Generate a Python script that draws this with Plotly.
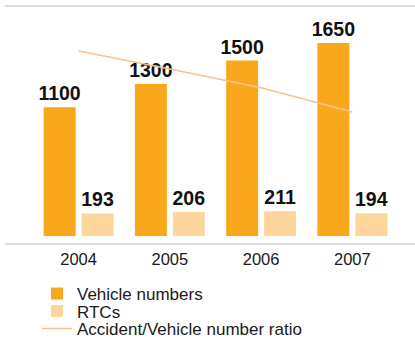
import plotly.graph_objects as go

# Data
years = ["2004", "2005", "2006", "2007"]
vehicle_numbers = [1100, 1300, 1500, 1650]
rtcs = [193, 206, 211, 194]
accident_vehicle_ratio = [0.1755, 0.1585, 0.1407, 0.1176]

ORANGE = "#F9A81C"
LIGHT = "#FDD69C"
PEACH = "#F5C291"
GRAY = "#D2D2D2"

W, H = 415, 358
L, R, T, B = 33, 17, 6, 122
plot_h = H - T - B
plot_w = W - L - R


def px_x(x):
    return (x - L) / plot_w


def px_y(y):
    return (H - B - y) / plot_h


bar_font = dict(family="Liberation Sans Narrow, Arial Narrow, sans-serif",
                size=19.5, color="#111111", weight="bold")

fig = go.Figure()
fig.add_trace(go.Bar(
    x=years, y=vehicle_numbers, name="Vehicle numbers",
    marker=dict(color=ORANGE, line=dict(width=0)),
    text=[str(v) for v in vehicle_numbers], textposition="outside",
    textfont=bar_font, constraintext="none", cliponaxis=False,
    legend="legend",
))
fig.add_trace(go.Bar(
    x=years, y=rtcs, name="RTCs",
    marker=dict(color=LIGHT, line=dict(width=0)),
    text=[str(v) for v in rtcs], textposition="outside",
    textfont=bar_font, constraintext="none", cliponaxis=False,
    legend="legend2",
))
fig.add_trace(go.Scatter(
    x=years, y=accident_vehicle_ratio, name="Accident/Vehicle number ratio",
    mode="lines", line=dict(color=PEACH, width=1.6), yaxis="y2",
    legend="legend3",
))

legend_font = dict(family="Liberation Sans, Arial, sans-serif", size=17,
                   color="#1a1a1a")
leg_common = dict(x=px_x(37), xanchor="left", yanchor="middle",
                  font=legend_font, bgcolor="rgba(0,0,0,0)",
                  borderwidth=0, itemclick=False)

fig.update_layout(
    width=W, height=H,
    margin=dict(l=L, r=R, t=T, b=B, pad=0),
    paper_bgcolor="white", plot_bgcolor="white",
    barmode="group", bargap=0.168, bargroupgap=0.158,
    showlegend=True,
    legend=dict(y=px_y(294), **leg_common),
    legend2=dict(y=px_y(311.5), **leg_common),
    legend3=dict(y=px_y(329), **leg_common),
    xaxis=dict(
        showline=False, showgrid=False, zeroline=False,
        ticks="outside", ticklen=8, tickcolor="rgba(0,0,0,0)",
        tickfont=dict(family="Liberation Sans, Arial, sans-serif",
                      size=16.5, color="#1a1a1a"),
    ),
    yaxis=dict(range=[0, 1966], visible=False, showgrid=False,
               zeroline=False),
    yaxis2=dict(range=[0, 0.2182], visible=False, overlaying="y",
                showgrid=False, zeroline=False),
    shapes=[
        dict(type="line", xref="paper", yref="paper",
             x0=px_x(5), x1=px_x(415), y0=px_y(6), y1=px_y(6),
             line=dict(color=GRAY, width=1.5)),
        dict(type="line", xref="paper", yref="paper",
             x0=px_x(5), x1=px_x(415), y0=px_y(244), y1=px_y(244),
             line=dict(color=GRAY, width=1.5)),
    ],
)

fig.write_html("out.html")
